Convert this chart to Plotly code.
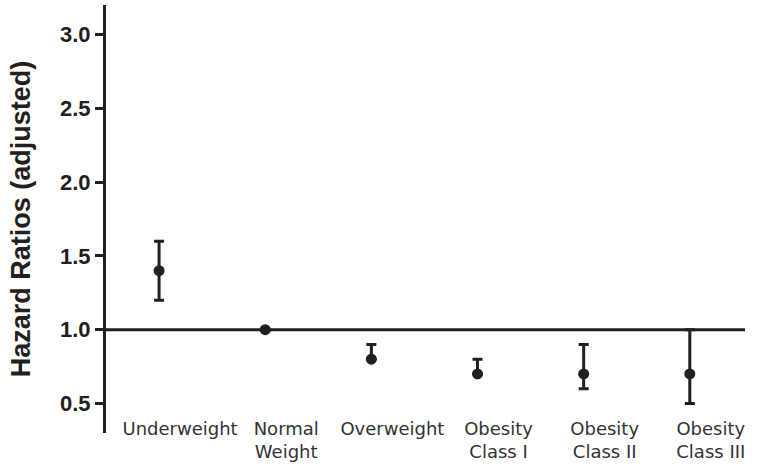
import plotly.graph_objects as go

# Body-mass categories and adjusted hazard ratios with confidence limits
categories = ["Underweight", "Normal<br>Weight", "Overweight",
              "Obesity<br>Class I", "Obesity<br>Class II", "Obesity<br>Class III"]
hazard_ratio = [1.4, 1.0, 0.8, 0.7, 0.7, 0.7]
upper_ci = [1.6, 1.0, 0.9, 0.8, 0.9, 1.0]
lower_ci = [1.2, 1.0, 0.8, 0.7, 0.6, 0.5]
y_ticks = [0.5, 1.0, 1.5, 2.0, 2.5, 3.0]
y_tick_labels = ["0.5", "1.0", "1.5", "2.0", "2.5", "3.0"]

INK = "#231f20"

x_pos = list(range(len(categories)))
err_plus = [u - h for u, h in zip(upper_ci, hazard_ratio)]
err_minus = [h - l for h, l in zip(hazard_ratio, lower_ci)]
has_err = [p > 0 or m > 0 for p, m in zip(err_plus, err_minus)]

fig = go.Figure()

# reference line at HR = 1
fig.add_shape(type="line", xref="paper", x0=0, x1=1, yref="y", y0=1.0, y1=1.0,
              line=dict(color=INK, width=3), layer="below")

fig.add_trace(go.Scatter(
    x=x_pos,
    y=hazard_ratio,
    mode="markers",
    marker=dict(color=INK, size=11),
    error_y=dict(
        type="data",
        symmetric=False,
        array=[p if e else None for p, e in zip(err_plus, has_err)],
        arrayminus=[m if e else None for m, e in zip(err_minus, has_err)],
        color=INK,
        thickness=3,
        width=5,
    ),
    showlegend=False,
))

fig.update_layout(
    width=759,
    height=464,
    margin=dict(l=106, r=14, t=5, b=31),
    plot_bgcolor="white",
    paper_bgcolor="white",
    xaxis=dict(
        range=[-0.5, 5.52],
        tickvals=x_pos,
        ticktext=categories,
        showline=False,
        showgrid=False,
        zeroline=False,
        automargin=False,
        ticks="",
        ticklabelshift=21,
        ticklabelstandoff=-17,
        tickfont=dict(family="DejaVu Sans", size=18, color="#333333"),
    ),
    yaxis=dict(
        range=[0.3, 3.2],
        tickvals=y_ticks,
        ticktext=y_tick_labels,
        showline=True,
        linecolor=INK,
        linewidth=3,
        showgrid=False,
        zeroline=False,
        automargin=False,
        ticks="outside",
        ticklen=8,
        tickwidth=3,
        tickcolor=INK,
        tickfont=dict(family="Liberation Sans", size=22, color=INK, weight="bold"),
        title=dict(
            text="Hazard Ratios (adjusted)",
            font=dict(family="Liberation Sans", size=27, color=INK, weight="bold"),
            standoff=22,
        ),
    ),
)

fig.write_html("out.html")
